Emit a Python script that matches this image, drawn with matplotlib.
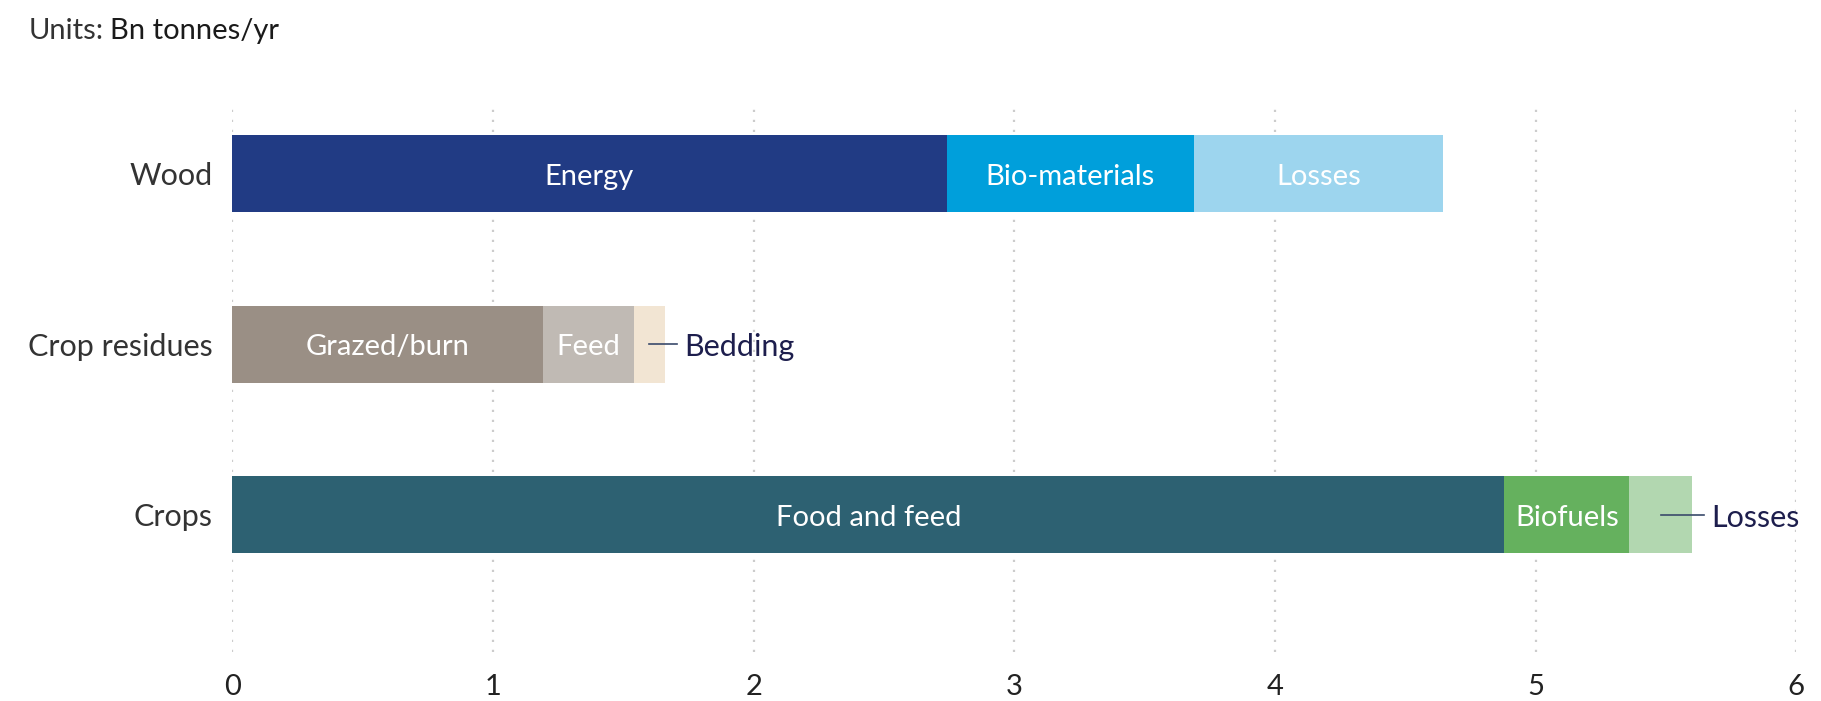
import matplotlib.pyplot as plt

plt.rcParams['font.family'] = ['Lato', 'DejaVu Sans']

# Bn tonnes/yr
categories = ["Wood", "Crop residues", "Crops"]
segments = [
    ["Energy", "Bio-materials", "Losses"],
    ["Grazed/burn", "Feed", "Bedding"],
    ["Food and feed", "Biofuels", "Losses"],
]
values = [
    [2.74, 0.95, 0.955],
    [1.19, 0.35, 0.12],
    [4.88, 0.48, 0.24],
]
colors = [
    ["#213b84", "#009fdb", "#9dd5ee"],
    ["#9a8f85", "#c0bab4", "#f2e5d3"],
    ["#2d6172", "#65b15e", "#b2d7b0"],
]
# labels written beside the bar instead of inside
outside = [[False, False, False], [False, False, True], [False, False, True]]

fig = plt.figure(figsize=(18.21, 7.01), dpi=100)
ax = fig.add_axes([0.1276, 0.0699, 0.8588, 0.7832])

bar_h = 0.4516
for i, cat in enumerate(categories):
    left = 0
    for name, val, col, out in zip(segments[i], values[i], colors[i], outside[i]):
        ax.barh(i, val, left=left, height=bar_h, color=col, zorder=2)
        if out:
            end = left + val
            ax.plot([left + val / 2, end + 0.045], [i, i], color="#3a4a6b", lw=1.2, zorder=3)
            ax.text(end + 0.075, i + 0.02, name, ha="left", va="center", fontsize=22,
                    color="#1d1e4d")
        else:
            ax.text(left + val / 2, i + 0.02, name, ha="center", va="center",
                    fontsize=21, color="white", zorder=3)
        left += val

ax.set_xlim(0, 6)
ax.set_ylim(2.806, -0.4135)
ax.set_xticks(range(0, 7))
ax.set_yticks(range(len(categories)))
ax.set_yticklabels(categories)
ax.tick_params(axis="x", length=0, pad=16, labelsize=21, labelcolor="#222222")
ax.tick_params(axis="y", length=0, pad=14, labelsize=22, labelcolor="#333333")
ax.grid(axis="x", color="#cccccc", linestyle=(0, (1, 3.5)), lw=1.6, zorder=0)
ax.set_axisbelow(True)
for s in ax.spines.values():
    s.set_visible(False)

t = fig.text(0.0155, 0.956, "Units:", fontsize=21, color="#333333", va="center")
ax.annotate("Bn tonnes/yr", xy=(1, 0.5), xycoords=t, xytext=(5, 0),
            textcoords="offset points", fontsize=21, color="#1a1a1a",
            va="center", ha="left", annotation_clip=False)

fig.savefig("out.png", dpi=100)
